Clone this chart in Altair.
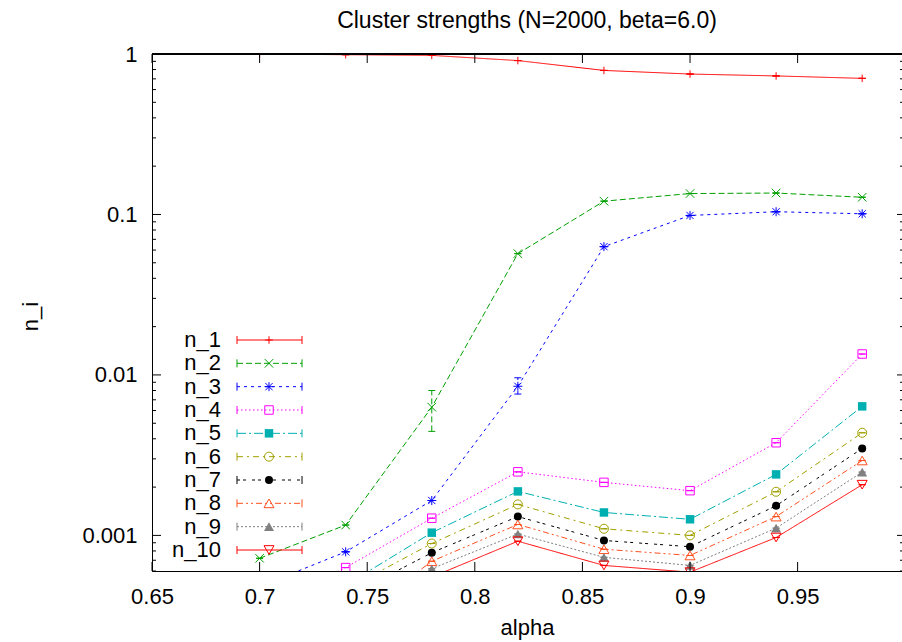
import altair as alt
import pandas as pd

# ---------------- data ----------------
alpha = [0.70, 0.74, 0.78, 0.82, 0.86, 0.90, 0.94, 0.98]
series_names = ["n_1", "n_2", "n_3", "n_4", "n_5", "n_6", "n_7", "n_8", "n_9", "n_10"]

n_1 = [1.0, 0.99, 0.98, 0.91, 0.79, 0.75, 0.73, 0.705]
n_2 = [0.00072, 0.00116, 0.0063, 0.057, 0.121, 0.135, 0.136, 0.128]
n_3 = [0.00048, 0.00079, 0.00165, 0.0085, 0.063, 0.0986, 0.104, 0.101]
n_4 = [0.00033, 0.00063, 0.00128, 0.00249, 0.00214, 0.0019, 0.00378, 0.0135]
n_5 = [None, 0.00049, 0.00104, 0.00188, 0.00139, 0.00126, 0.0024, 0.00637]
n_6 = [None, 0.00046, 0.00089, 0.00156, 0.0011, 0.001, 0.00187, 0.00436]
n_7 = [None, 0.00041, 0.00078, 0.00131, 0.00093, 0.00085, 0.00153, 0.00348]
n_8 = [None, 0.00027, 0.00069, 0.00117, 0.00082, 0.00075, 0.00131, 0.00293]
n_9 = [None, 0.0002, 0.00062, 0.00102, 0.00073, 0.00065, 0.00111, 0.00248]
n_10 = [None, 0.00015, 0.00055, 0.00092, 0.00065, 0.00059, 0.00097, 0.00207]
series_values = [n_1, n_2, n_3, n_4, n_5, n_6, n_7, n_8, n_9, n_10]

# error bars large enough to be seen (elsewhere they hide behind the markers)
err_series = ["n_2", "n_3"]
err_alpha = [0.78, 0.82]
err_low = [0.00445, 0.0076]
err_high = [0.0080, 0.0096]

x_ticks = [0.65, 0.70, 0.75, 0.80, 0.85, 0.90, 0.95]
y_ticks = [0.001, 0.01, 0.1, 1]
y_minor = [m * d for d in [0.0001, 0.001, 0.01, 0.1] for m in range(2, 10)]
y_minor = [v for v in y_minor if v >= 0.0006]

# ---------------- styles ----------------
FONT = "Liberation Sans"
colors = ["#ff0000", "#00a000", "#0000ff", "#ff00ff", "#00b0b0",
          "#a0a000", "#000000", "#ff5020", "#808080", "#ff0000"]
dashes = [[1, 0], [6, 3], [3, 4], [1.5, 2.5], [9, 3, 2, 3], [6, 4, 2, 4],
          [3, 3, 3, 6], [6, 3, 2, 3, 2, 3], [2, 2], [1, 0]]
PLUS = "M-1,0L1,0M0,-1L0,1"
XS = "M-1,-1L1,1M-1,1L1,-1"
STAR = "M-1,0L1,0M0,-1L0,1M-0.8,-0.8L0.8,0.8M-0.8,0.8L0.8,-0.8"
shapes = [PLUS, XS, STAR, "square", "square", "circle", "circle",
          "triangle-up", "triangle-up", "triangle-down"]
filled = [False, False, False, False, True, False, True, False, True, False]
sizes = [56, 72, 81, 72, 72, 81, 64, 100, 100, 100]

W, H = 750, 517

# ---------------- tables ----------------
rows = []
for name, vals in zip(series_names, series_values):
    for a, v in zip(alpha, vals):
        if v is None:
            continue
        lo, hi = v, v
        for s, ea, el, eh in zip(err_series, err_alpha, err_low, err_high):
            if s == name and abs(ea - a) < 1e-9:
                lo, hi = el, eh
        rows.append({"series": name, "alpha": a, "value": v, "lo": lo, "hi": hi})
df = pd.DataFrame(rows)
legend_df = pd.DataFrame({"series": series_names, "row": list(range(len(series_names)))})

color_scale = alt.Scale(domain=series_names, range=colors)
dash_scale = alt.Scale(domain=series_names, range=dashes)

xscale = alt.Scale(domain=[0.65, 0.9985], nice=False, zero=False)
yscale = alt.Scale(type="log", domain=[0.0006, 1], nice=False)

xaxis = alt.Axis(values=x_ticks, format=".2~f", ticks=False, tickSize=0, grid=False,
                 domain=True, domainColor="black", domainWidth=1,
                 labelFont=FONT, labelFontSize=22, labelColor="black", labelPadding=32,
                 labelBaseline="alphabetic", labelFlush=False, labelOverlap=False,
                 titleFont=FONT, titleFontSize=22, titleFontWeight="normal", titleColor="black",
                 titleX=375, titleY=63, titleBaseline="alphabetic", titleAlign="center")
yaxis = alt.Axis(values=y_ticks, format="~g", ticks=False, tickSize=0, grid=False,
                 domain=True, domainColor="black", domainWidth=1,
                 labelFont=FONT, labelFontSize=22, labelColor="black", labelPadding=15,
                 labelBaseline="middle", labelOverlap=False,
                 titleFont=FONT, titleFontSize=22, titleFontWeight="normal", titleColor="black",
                 titleX=-115, titleY=262, titleAngle=270, titleBaseline="alphabetic",
                 titleAlign="center")


def X(field):
    return alt.X(field, type="quantitative", scale=xscale, axis=xaxis, title="alpha")


def Y(field):
    return alt.Y(field, type="quantitative", scale=yscale, axis=yaxis, title="n_i")


COLOR = alt.Color("series:N", scale=color_scale, legend=None)
DASH = alt.StrokeDash("series:N", scale=dash_scale, legend=None)

base = alt.Chart(df)
lines = base.mark_line(clip=True, strokeWidth=1).encode(x=X("alpha"), y=Y("value"),
                                                        color=COLOR, strokeDash=DASH)
bars = base.mark_rule(clip=True, strokeWidth=1).encode(x=X("alpha"), y=Y("lo"), y2="hi",
                                                       color=COLOR, strokeDash=DASH)
caps = base.transform_fold(["lo", "hi"], as_=["end", "yv"]).mark_point(
    shape="M-1,0L1,0", size=49, filled=False, strokeWidth=1, opacity=1, clip=True
).encode(x=X("alpha"), y=Y("yv:Q"), color=COLOR)

markers = []
for name, shp, fl, sz, col in zip(series_names, shapes, filled, sizes, colors):
    markers.append(
        base.transform_filter(alt.datum.series == name).mark_point(
            shape=shp, filled=fl, size=sz, strokeWidth=1, opacity=1, clip=True
        ).encode(x=X("alpha"), y=Y("value"), color=alt.value(col))
    )

xt = alt.Chart(pd.DataFrame({"t": x_ticks}))
yt = alt.Chart(pd.DataFrame({"value": y_ticks}))
ym = alt.Chart(pd.DataFrame({"value": y_minor}))
tick_layers = [
    xt.mark_rule(color="black", strokeWidth=1).encode(x=X("t"), y=alt.value(H), y2=alt.value(H - 9)),
    xt.mark_rule(color="black", strokeWidth=1).encode(x=X("t"), y=alt.value(0), y2=alt.value(9)),
    yt.mark_rule(color="black", strokeWidth=1).encode(y=Y("value"), x=alt.value(0), x2=alt.value(9)),
    ym.mark_rule(color="black", strokeWidth=1).encode(y=Y("value"), x=alt.value(0), x2=alt.value(4)),
    yt.mark_rule(color="black", strokeWidth=1).encode(y=Y("value"), x=alt.value(W - 5), x2=alt.value(W)),
    ym.mark_rule(color="black", strokeWidth=1).encode(y=Y("value"), x=alt.value(W - 2), x2=alt.value(W)),
    xt.mark_rule(color="black", strokeWidth=1).encode(x=alt.value(0), x2=alt.value(W), y=alt.value(0)),
]

data_chart = alt.layer(lines, bars, caps, *markers, *tick_layers)

# ---------------- legend (drawn as marks) ----------------
LY = alt.Y("row:Q", scale=alt.Scale(domain=[0, 9], range=[286, 496]), axis=None)
lb = alt.Chart(legend_df)
leg_layers = [
    lb.mark_text(align="right", baseline="middle", font=FONT, fontSize=22, color="black").encode(
        x=alt.value(69), y=LY, text="series:N"),
    lb.mark_rule(strokeWidth=1).encode(x=alt.value(85), x2=alt.value(150), y=LY,
                                       color=COLOR, strokeDash=DASH),
    lb.mark_point(shape="M0,-1L0,1", size=64, filled=False, strokeWidth=1, opacity=1).encode(
        x=alt.value(85), y=LY, color=COLOR),
    lb.mark_point(shape="M0,-1L0,1", size=64, filled=False, strokeWidth=1, opacity=1).encode(
        x=alt.value(150), y=LY, color=COLOR),
]
for name, shp, fl, sz, col in zip(series_names, shapes, filled, sizes, colors):
    leg_layers.append(
        lb.transform_filter(alt.datum.series == name).mark_point(
            shape=shp, filled=fl, size=sz, strokeWidth=1, opacity=1
        ).encode(x=alt.value(117), y=LY, color=alt.value(col))
    )
legend_chart = alt.layer(*leg_layers)

chart = alt.layer(data_chart, legend_chart).resolve_scale(y="independent").properties(
    width=W, height=H,
    title=alt.TitleParams("Cluster strengths (N=2000, beta=6.0)", font=FONT, fontSize=23,
                          fontWeight="normal", color="black", anchor="middle", offset=10),
    padding={"left": 152, "top": 54, "right": 0, "bottom": 71},
    autosize=alt.AutoSizeParams(type="none"),
).configure_view(strokeWidth=0).configure(background="white")

chart.save("out.html", embed_options={"renderer": "svg", "actions": False})
